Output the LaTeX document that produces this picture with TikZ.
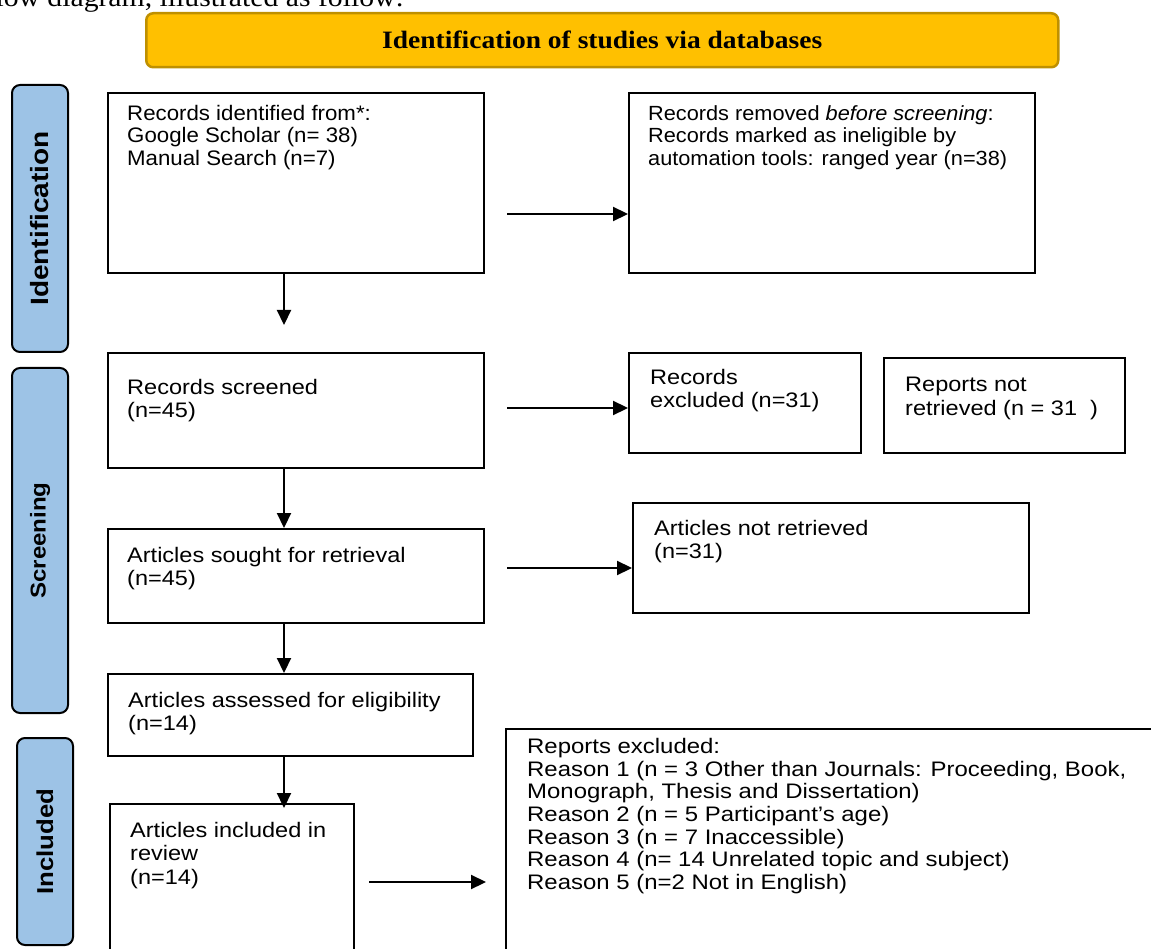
\documentclass[tikz,border=0pt]{standalone}
\usepackage{fontspec}
\setmainfont{Liberation Sans}
\newfontfamily\bxfont[FakeStretch=1.12]{Liberation Sans}
\newfontfamily\bxnarrow[FakeStretch=1.06]{Liberation Sans}
\newfontfamily\bxwide[FakeStretch=1.14]{Liberation Sans}
\newfontfamily\tmsfont[FakeStretch=1.1]{Liberation Serif}
\usetikzlibrary{arrows.meta,calc}
\definecolor{headfill}{HTML}{FFC000}
\definecolor{headdraw}{HTML}{BF9000}
\definecolor{phasefill}{HTML}{9DC3E6}
\begin{document}
\begin{tikzpicture}[x=1pt,y=-1pt,
  box/.style={draw=black,line width=2.2pt,rectangle,inner sep=0pt,anchor=north west},
  txt/.style={anchor=north west,inner sep=0pt,align=left,font=\bxfont\fontsize{21}{23.5}\selectfont},
  phasebox/.style={draw=black,line width=2pt,fill=phasefill,rounded corners=8pt,anchor=north west,inner sep=0pt},
  phasetxt/.style={rotate=90,inner sep=0pt},
  arr/.style={line width=2.2pt,-{Triangle[length=15pt,width=14pt]}},
]
\path[use as bounding box] (0,0) rectangle (1151,949);
\clip (0,0) rectangle (1151,949);

% partial line of body text at the top
\node[anchor=base east,inner sep=0pt,font=\tmsfont\fontsize{27}{30}\selectfont] (toptext) at (404,7) {flow diagram, illustrated as follow:};

% header
\node[draw=headdraw,line width=2.5pt,fill=headfill,rounded corners=7pt,anchor=north west,inner sep=0pt,
      minimum width=912pt,minimum height=54pt] (head) at (145,12) {};
\node[font=\tmsfont\bfseries\fontsize{25}{28}\selectfont,inner sep=0pt] (headtxt) at (head.center) {Identification of studies via databases};

% phase labels
\node[phasebox,minimum width=56pt,minimum height=267pt] (pid) at (11,84) {};
\node[phasetxt,font=\bxfont\bfseries\fontsize{25}{28}\selectfont] (pidt) at (pid.center) {Identification};
\node[phasebox,minimum width=56pt,minimum height=345pt] (psc) at (11,367) {};
\node[phasetxt,font=\bxfont\bfseries\fontsize{21.5}{25}\selectfont] (psct) at (psc.center) {Screening};
\node[phasebox,minimum width=56pt,minimum height=207pt] (pin) at (16,737) {};
\node[phasetxt,font=\bxfont\bfseries\fontsize{23}{25}\selectfont] (pint) at (pin.center) {Included};

% boxes
\node[box,minimum width=376pt,minimum height=180pt] (b1) at (107,92) {};
\node[box,minimum width=406pt,minimum height=180pt] (b2) at (628,92) {};
\node[box,minimum width=376pt,minimum height=115pt] (b3) at (107,352) {};
\node[box,minimum width=232pt,minimum height=100pt] (b4) at (628,352) {};
\node[box,minimum width=241pt,minimum height=95pt] (b5) at (883,357) {};
\node[box,minimum width=376pt,minimum height=94pt] (b6) at (107,528) {};
\node[box,minimum width=396pt,minimum height=110pt] (b7) at (632,502) {};
\node[box,minimum width=365pt,minimum height=82pt] (b8) at (107,673) {};
\node[box,minimum width=244pt,minimum height=170pt] (b9) at (109,803) {};
\node[box,minimum width=680pt,minimum height=260pt] (b10) at (505,728) {};

% texts
\node[txt,font=\bxnarrow\fontsize{21}{22.5}\selectfont] (t1) at ($(b1.north west)+(20,13)$) {Records identified from*:\\Google Scholar (n= 38)\\Manual Search (n=7)};
\node[txt,font=\bxnarrow\fontsize{20.5}{22.5}\selectfont] (t2) at ($(b2.north west)+(20,13)$) {Records removed \emph{before screening}:\\Records marked as ineligible by\\automation tools: ranged year (n=38)};
\node[txt] (t3) at ($(b3.north west)+(20,27)$) {Records screened\\(n=45)};
\node[txt] (t4) at ($(b4.north west)+(22,17)$) {Records\\excluded (n=31)};
\node[txt] (t5) at ($(b5.north west)+(22,20)$) {Reports not\\retrieved (n = 31\ \ )};
\node[txt] (t6) at ($(b6.north west)+(20,19)$) {Articles sought for retrieval\\(n=45)};
\node[txt] (t7) at ($(b7.north west)+(22,18)$) {Articles not retrieved\\(n=31)};
\node[txt] (t8) at ($(b8.north west)+(21,19)$) {Articles assessed for eligibility\\(n=14)};
\node[txt] (t9) at ($(b9.north west)+(21,19)$) {Articles included in\\review\\(n=14)};
\node[txt,font=\bxwide\fontsize{21}{22.7}\selectfont] (t10) at ($(b10.north west)+(22,10)$) {Reports excluded:\\Reason 1 (n = 3 Other than Journals: Proceeding, Book,\\Monograph, Thesis and Dissertation)\\Reason 2 (n = 5 Participant’s age)\\Reason 3 (n = 7 Inaccessible)\\Reason 4 (n= 14 Unrelated topic and subject)\\Reason 5 (n=2 Not in English)};

% connectors
\coordinate (ax) at (284,0);
\coordinate (c1) at (284,325);
\coordinate (s1) at (507,214);
\coordinate (s3) at (507,408);
\coordinate (s6) at (507,568);
\coordinate (s9) at (369,882);
\coordinate (e9) at (486,882);
\draw[arr] (s1) -- (b2.west |- s1);
\draw[arr] (b1.south -| ax) -- (c1);
\draw[arr] (s3) -- (b4.west |- s3);
\draw[arr] (b3.south -| ax) -- (b6.north -| ax);
\draw[arr] (s6) -- (b7.west |- s6);
\draw[arr] (b6.south -| ax) -- (b8.north -| ax);
\draw[arr,shorten >=-5pt] (b8.south -| ax) -- (b9.north -| ax);
\draw[arr] (s9) -- (e9);
\end{tikzpicture}
\end{document}
